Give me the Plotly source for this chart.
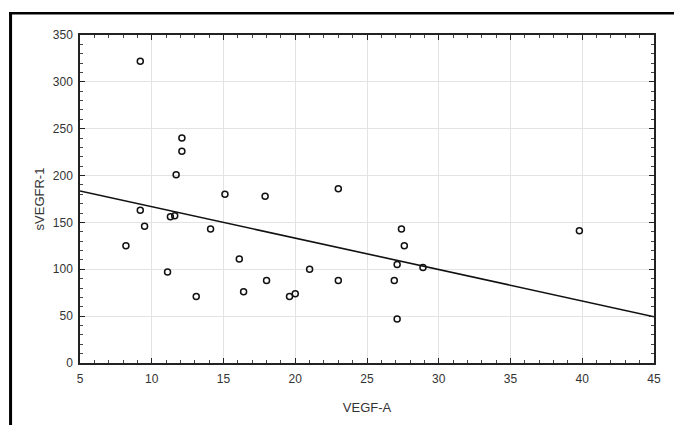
import plotly.graph_objects as go

# Data
vegf_a = [9.2, 12.1, 12.1, 11.7, 15.1, 17.9, 9.2, 9.5, 11.3, 11.6, 14.1,
          8.2, 11.1, 13.1, 16.1, 16.4, 18.0, 19.6, 20.0,
          23.0, 21.0, 23.0, 27.4, 27.6, 27.1, 28.9, 26.9, 27.1, 39.8]
svegfr_1 = [322, 240, 226, 201, 180, 178, 163, 146, 156, 157, 143,
            125, 97, 71, 111, 76, 88, 71, 74,
            186, 100, 88, 143, 125, 105, 102, 88, 47, 141]

fit_x = [5, 45]
fit_y = [183.6, 49.4]

x_ticks = [5, 10, 15, 20, 25, 30, 35, 40, 45]
y_ticks = [0, 50, 100, 150, 200, 250, 300, 350]

fig = go.Figure()
fig.add_trace(go.Scatter(
    x=fit_x, y=fit_y, mode="lines",
    line=dict(color="#111111", width=1.6),
    hoverinfo="skip", showlegend=False))
fig.add_trace(go.Scatter(
    x=vegf_a, y=svegfr_1, mode="markers",
    marker=dict(symbol="circle-open", size=6, color="#111111",
                line=dict(width=1.5, color="#111111")),
    showlegend=False))

W, H = 674, 425
L, R, T, B = 79.5, 20, 35, 62
pw = W - L - R
ph = H - T - B

def px_x(p):
    return (p - L) / pw

def px_y(p):
    return (H - B - p) / ph

fig.update_layout(
    width=W, height=H,
    margin=dict(l=L, r=R, t=T, b=B, pad=0),
    paper_bgcolor="white", plot_bgcolor="white",
    font=dict(family="Liberation Sans, Arial, sans-serif", size=12, color="#333333"),
    xaxis=dict(
        range=[5, 45], tickvals=x_ticks, ticktext=[str(v) for v in x_ticks],
        showgrid=True, gridcolor="#e3e3e3", gridwidth=1,
        showline=True, linecolor="#222222", linewidth=1.5, mirror="ticks",
        ticks="inside", ticklen=5, tickcolor="#222222", tickwidth=1,
        minor=dict(dtick=1, ticks="inside", ticklen=3, tickcolor="#444444", showgrid=False),
        zeroline=False, ticklabelstandoff=4,
        title=dict(text="VEGF-A", font=dict(size=13, color="#333333"), standoff=18),
        tickfont=dict(size=12, color="#333333"),
    ),
    yaxis=dict(
        range=[0, 350], tickvals=y_ticks, ticktext=[str(v) for v in y_ticks],
        showgrid=True, gridcolor="#e3e3e3", gridwidth=1,
        showline=True, linecolor="#222222", linewidth=1.5, mirror="ticks",
        ticks="inside", ticklen=5, tickcolor="#222222", tickwidth=1,
        minor=dict(dtick=10, ticks="inside", ticklen=3, tickcolor="#444444", showgrid=False),
        zeroline=False, ticklabelstandoff=3,
        title=dict(text="sVEGFR-1", font=dict(size=13, color="#333333"), standoff=5),
        tickfont=dict(size=12, color="#333333"),
    ),
    shapes=[
        dict(type="rect", xref="paper", yref="paper",
             x0=px_x(8.5), x1=px_x(11.5), y0=px_y(H + 5), y1=px_y(12),
             fillcolor="black", line=dict(width=0), layer="above"),
        dict(type="rect", xref="paper", yref="paper",
             x0=px_x(8.5), x1=px_x(W + 5), y0=px_y(14.5), y1=px_y(12),
             fillcolor="black", line=dict(width=0), layer="above"),
    ],
)

fig.write_html(
    "out.html",
    config={"displayModeBar": False},
    post_script="document.body.style.margin='0';document.body.style.padding='0';"
                "document.body.style.overflow='hidden';",
)
